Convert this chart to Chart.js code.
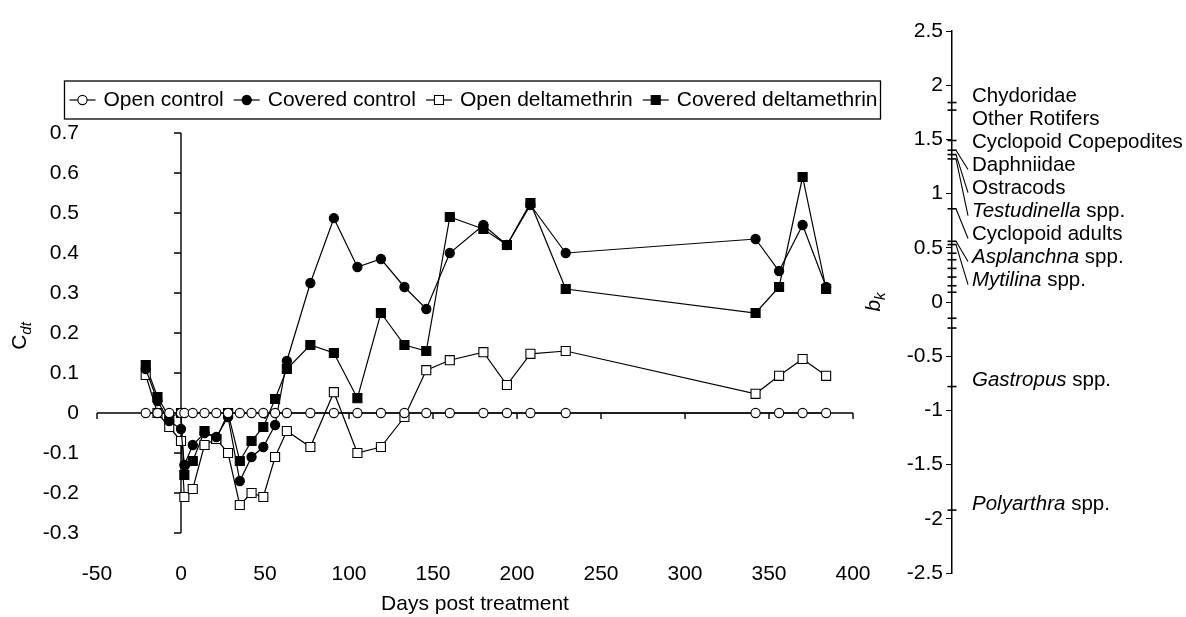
<!DOCTYPE html>
<html>
<head>
<meta charset="utf-8">
<script src="https://cdn.jsdelivr.net/npm/chart.js@4.4.1/dist/chart.umd.min.js"></script>
<style>
  body { margin: 0; background: #fff; }
  #wrap { position: relative; width: 1186px; height: 617px; }
  canvas { position: absolute; top: 0; }
</style>
</head>
<body>
<div id="wrap">
  <canvas id="prc" width="947" height="617" style="left:0"></canvas>
  <canvas id="bk" width="336" height="617" style="left:850px"></canvas>
</div>
<script>
// PRC: C_dt por tratamiento frente a días post-tratamiento, y pesos b_k de las especies.

const FONT = "'Liberation Sans', Arial, sans-serif";
Chart.defaults.font.family = FONT;
Chart.defaults.color = '#000';

/* ---------- Datos ---------- */
const DAYS = [-21, -14, -7, 0, 2, 7, 14, 21, 28, 35, 42, 49, 56, 63, 77, 91, 105, 119, 133, 146,
  160, 180, 194, 208, 229, 342, 356, 370, 384];

const OPEN_CONTROL = [0, 0, 0, 0, 0, 0, 0, 0, 0, 0, 0, 0, 0, 0, 0, 0, 0, 0, 0, 0,
  0, 0, 0, 0, 0, 0, 0, 0, 0];
const COVERED_CONTROL = [0.11, 0.03, -0.02, -0.04, -0.13, -0.08, -0.05, -0.06, -0.01, -0.17,
  -0.11, -0.085, -0.03, 0.13, 0.325, 0.487, 0.365, 0.385, 0.315, 0.26,
  0.40, 0.47, 0.42, 0.52, 0.40, 0.435, 0.355, 0.47, 0.315];
const OPEN_DELTA = [0.095, 0.0, -0.035, -0.07, -0.21, -0.19, -0.08, -0.065, -0.1, -0.23,
  -0.2, -0.21, -0.11, -0.045, -0.085, 0.052, -0.1, -0.085, -0.01, 0.107,
  0.132, 0.152, 0.07, 0.148, 0.155, 0.048, 0.093, 0.135, 0.093];
const COVERED_DELTA = [0.12, 0.04, -0.01, 0.0, -0.155, -0.12, -0.045, -0.065, 0.0, -0.12,
  -0.07, -0.035, 0.035, 0.11, 0.17, 0.15, 0.037, 0.25, 0.17, 0.155,
  0.49, 0.46, 0.42, 0.525, 0.31, 0.25, 0.315, 0.59, 0.31];

const SERIES_NAMES = ['Open control', 'Covered control', 'Open deltamethrin', 'Covered deltamethrin'];

const SPECIES_NAMES = ['Chydoridae', 'Other Rotifers', 'Cyclopoid Copepodites', 'Daphniidae', 'Ostracods',
  'Testudinella spp.', 'Cyclopoid adults', 'Asplanchna spp.', 'Mytilina spp.', 'Gastropus spp.', 'Polyarthra spp.'];
const SPECIES_SCORES = [1.84, 1.77, 1.49, 1.40, 1.36, 1.32, 0.86, 0.56, 0.53, -0.78, -1.92];
const OTHER_SCORES = [0.45, 0.39, 0.31, 0.23, 0.15, 0.09, -0.15, -0.24];

const X_TICKS = { min: -50, max: 400, step: 50 };
const Y_TICKS = { min: -0.3, max: 0.7, step: 0.1 };
const BK_TICKS = { min: -2.5, max: 2.5, step: 0.5 };

/* ---------- Helpers ---------- */
const asPoints = vals => DAYS.map((d, i) => ({ x: d, y: vals[i] }));

function serie(label, vals, style, fill) {
  return {
    label, data: asPoints(vals),
    borderColor: '#000', borderWidth: 1.2, tension: 0,
    pointStyle: style, pointRadius: style === 'rect' ? 6.4 : 4.6,
    pointBackgroundColor: fill, pointBorderColor: '#000', pointBorderWidth: 1.1,
  };
}

// texto rotado con subíndice (C_dt, b_k)
function drawRotatedSub(ctx, main, sub, cx, cy, size, italicMain) {
  ctx.save();
  ctx.translate(cx, cy);
  ctx.rotate(-Math.PI / 2);
  ctx.fillStyle = '#000';
  ctx.textBaseline = 'alphabetic';
  const fMain = `${italicMain ? 'italic ' : ''}${size}px ${FONT}`;
  const fSub = `italic ${Math.round(size * 0.7)}px ${FONT}`;
  ctx.font = fMain; const w1 = ctx.measureText(main).width;
  ctx.font = fSub; const w2 = ctx.measureText(sub).width;
  const x0 = -(w1 + w2) / 2;
  ctx.font = fMain; ctx.fillText(main, x0, 0);
  ctx.font = fSub; ctx.fillText(sub, x0 + w1, size * 0.25);
  ctx.restore();
}

/* ---------- Plugins ---------- */
// ejes que cruzan en cero
const zeroAxes = {
  id: 'zeroAxes',
  beforeDatasetsDraw(chart) {
    const { ctx, scales: { x, y } } = chart;
    const x0 = x.getPixelForValue(0), y0 = y.getPixelForValue(0);
    ctx.save();
    ctx.strokeStyle = '#000';
    ctx.lineWidth = 1.4;
    ctx.beginPath();
    ctx.moveTo(x.left, y0); ctx.lineTo(x.right, y0);
    ctx.moveTo(x0, y.top); ctx.lineTo(x0, y.bottom);
    x.ticks.forEach(t => { const px = x.getPixelForValue(t.value); ctx.moveTo(px, y0); ctx.lineTo(px, y0 + 6); });
    y.ticks.forEach(t => { const py = y.getPixelForValue(t.value); ctx.moveTo(x0 - 7, py); ctx.lineTo(x0, py); });
    ctx.stroke();
    ctx.restore();
  },
  afterDraw(chart) {
    drawRotatedSub(chart.ctx, 'C', 'dt', 26, 336, 21, false);
  },
};

// leyenda en caja, con línea + marcador
const boxLegend = {
  id: 'boxLegend',
  afterDraw(chart) {
    const { ctx } = chart;
    const size = 21, sym = 26, gapText = 8, gapItem = 10, cx = 473.5, rowY = 100;
    ctx.save();
    ctx.font = `${size}px ${FONT}`;
    const items = chart.data.datasets.map(ds => ({ ds, w: ctx.measureText(ds.label).width }));
    const total = items.reduce((s, it) => s + sym + gapText + it.w, 0) + gapItem * (items.length - 1);
    let x = cx - total / 2;
    const left = x - 5;
    ctx.textBaseline = 'middle';
    ctx.strokeStyle = '#000';
    ctx.fillStyle = '#000';
    items.forEach(({ ds, w }) => {
      ctx.lineWidth = 1.2;
      ctx.beginPath(); ctx.moveTo(x, rowY); ctx.lineTo(x + sym, rowY); ctx.stroke();
      const mx = x + sym / 2;
      ctx.beginPath();
      if (ds.pointStyle === 'rect') ctx.rect(mx - 4.5, rowY - 4.5, 9, 9);
      else ctx.arc(mx, rowY, 4.6, 0, Math.PI * 2);
      ctx.fillStyle = ds.pointBackgroundColor; ctx.fill();
      ctx.lineWidth = 1.1; ctx.stroke();
      ctx.fillStyle = '#000';
      ctx.fillText(ds.label, x + sym + gapText, rowY);
      x += sym + gapText + w + gapItem;
    });
    const right = x - gapItem + 3;
    ctx.lineWidth = 1.3;
    ctx.strokeRect(left, 81, right - left, 38);
    ctx.restore();
  },
};

// nombres de especies con líneas guía
const speciesLabels = {
  id: 'speciesLabels',
  afterDraw(chart) {
    const { ctx, chartArea, scales: { y } } = chart;
    const axisX = chartArea.left, textX = axisX + 20;
    let prev = -Infinity;
    ctx.save();
    ctx.fillStyle = '#000';
    ctx.strokeStyle = '#000';
    ctx.lineWidth = 1.1;
    ctx.textBaseline = 'middle';
    SPECIES_NAMES.forEach((name, i) => {
      const py = y.getPixelForValue(SPECIES_SCORES[i]);
      const ly = Math.max(py - 6, prev + 23);
      prev = ly;
      if (Math.abs(ly - py) > 10) {
        ctx.beginPath(); ctx.moveTo(axisX + 4, py); ctx.lineTo(textX - 4, ly + 4); ctx.stroke();
      }
      const m = name.match(/^(\S+)( spp\.)$/);
      if (m) {
        ctx.font = `italic 20.5px ${FONT}`;
        ctx.fillText(m[1], textX, ly);
        const w = ctx.measureText(m[1]).width;
        ctx.font = `20.5px ${FONT}`;
        ctx.fillText(m[2], textX + w, ly);
      } else {
        ctx.font = `20.5px ${FONT}`;
        ctx.fillText(name, textX, ly);
      }
    });
    ctx.restore();
    drawRotatedSub(ctx, 'b', 'k', 30, 302, 21, true);
  },
};

/* ---------- Gráfica principal ---------- */
const tickFont = { size: 21 };

new Chart(document.getElementById('prc'), {
  type: 'line',
  data: {
    datasets: [
      serie(SERIES_NAMES[0], OPEN_CONTROL, 'circle', '#fff'),
      serie(SERIES_NAMES[1], COVERED_CONTROL, 'circle', '#000'),
      serie(SERIES_NAMES[2], OPEN_DELTA, 'rect', '#fff'),
      serie(SERIES_NAMES[3], COVERED_DELTA, 'rect', '#000'),
    ],
  },
  options: {
    responsive: false, animation: false,
    layout: { padding: { top: 133, right: 94, left: 0, bottom: 0 } },
    scales: {
      x: {
        type: 'linear', min: X_TICKS.min, max: X_TICKS.max,
        ticks: { stepSize: X_TICKS.step, padding: 29, font: tickFont, color: '#000' },
        grid: { display: false, drawTicks: false }, border: { display: false },
        title: { display: true, text: 'Days post treatment', font: tickFont, color: '#000', padding: 0 },
        afterFit: s => { s.height = 84; },
      },
      y: {
        min: Y_TICKS.min, max: Y_TICKS.max,
        ticks: { stepSize: Y_TICKS.step, padding: 18, font: tickFont, color: '#000' },
        grid: { display: false, drawTicks: false }, border: { display: false },
        afterFit: s => { s.width = 97; },
      },
    },
    plugins: { legend: { display: false }, tooltip: { enabled: false } },
  },
  plugins: [zeroAxes, boxLegend],
});

/* ---------- Eje de especies b_k ---------- */
new Chart(document.getElementById('bk'), {
  type: 'scatter',
  data: {
    datasets: [{
      data: [...SPECIES_SCORES, ...OTHER_SCORES].map(v => ({ x: 0, y: v })),
      pointStyle: 'line', pointRadius: 4.5, borderColor: '#000', borderWidth: 1.6, clip: false,
    }],
  },
  options: {
    responsive: false, animation: false,
    layout: { padding: { top: 31, bottom: 44, left: 0, right: 0 } },
    scales: {
      x: { display: false, min: 0, max: 1 },
      y: {
        min: BK_TICKS.min, max: BK_TICKS.max,
        ticks: { stepSize: BK_TICKS.step, padding: 3, font: tickFont, color: '#000', callback: v => String(v) },
        grid: { drawOnChartArea: false, tickLength: 6, color: '#000' },
        border: { color: '#000', width: 1.5 },
        afterFit: s => { s.width = 102; },
      },
    },
    plugins: { legend: { display: false }, tooltip: { enabled: false } },
  },
  plugins: [speciesLabels],
});
</script>
</body>
</html>
